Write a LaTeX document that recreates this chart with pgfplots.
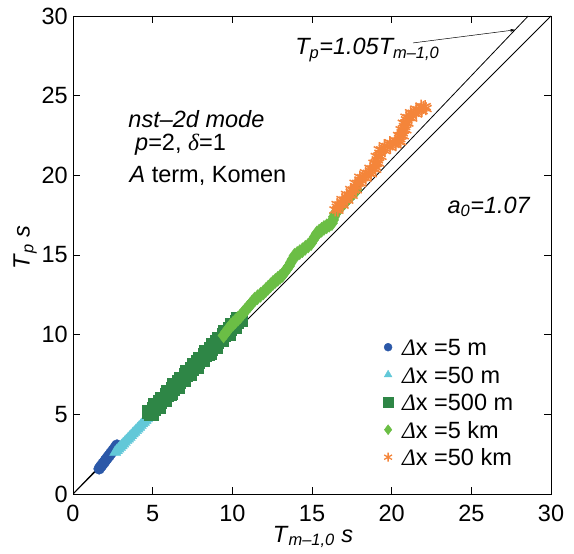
\documentclass[border=0pt]{standalone}
\usepackage{fontspec}
\setmainfont{Liberation Sans}
\newfontfamily\serifgr{Liberation Serif}
\usepackage{pgfplots}
\pgfplotsset{compat=1.18}
\usetikzlibrary{arrows.meta}
\definecolor{cblue}{RGB}{43,88,168}
\definecolor{ccyan}{RGB}{98,200,216}
\definecolor{cdgreen}{RGB}{46,134,70}
\definecolor{clgreen}{RGB}{107,190,69}
\definecolor{corange}{RGB}{244,133,58}
\newcommand{\fsz}{\fontsize{23.5}{28}\selectfont}
\newcommand{\gDelta}{{\serifgr\itshape Δ}}
\begin{document}
\begin{tikzpicture}
\begin{axis}[
  scale only axis, width=478pt, height=478pt,
  xmin=0, xmax=30, ymin=0, ymax=30,
  xtick={0,5,...,30}, ytick={0,5,...,30},
  tick align=inside, major tick length=7pt,
  axis line style={line width=0.8pt},
  every tick/.style={black, line width=0.8pt},
  ticklabel style={font=\fsz},
  /pgf/number format/assume math mode=true,
  xticklabel style={inner sep=0pt, yshift=-11pt},
  yticklabel style={inner sep=0pt, xshift=-5pt},
  xlabel={\textit{T}\textsubscript{\textit{m–1,0}} \textit{s}},
  ylabel={\textit{T}\textsubscript{\textit{p}} \textit{s}},
  xlabel style={at={(axis description cs:0.502,-0.09)}, anchor=center, font=\fsz},
  ylabel style={at={(axis description cs:-0.1,0.515)}, anchor=center, font=\fsz},
  legend style={draw=none, fill=none, at={(axis cs:19.45,9.76)}, anchor=north west,
    inner sep=0pt, row sep=10.5pt, column sep=9pt, font=\fsz, legend cell align=left,
    nodes={inner sep=0pt, text height=17pt, text depth=0pt}},
  legend image code/.code={\draw[mark repeat=2,mark phase=2,#1] plot coordinates {(0pt,0pt)(6pt,0pt)(12pt,0pt)};},
]
\coordinate (ll) at (rel axis cs:0,0);
\coordinate (ur) at (rel axis cs:1,1);
\addplot[only marks, mark=*, mark size=5.5pt, color=cblue, legend image post style={mark size=4pt}] coordinates {
(1.64,1.58)(1.72,1.70)(1.80,1.79)(1.88,1.91)(1.96,2.00)(2.04,2.12)(2.12,2.21)(2.20,2.33)(2.28,2.42)(2.36,2.54)
(2.44,2.63)(2.52,2.75)(2.60,2.84)(2.68,2.96)(2.76,3.07)
};
\addlegendentry{\gDelta x =5 m}
\addplot[only marks, mark=triangle*, mark size=6.5pt, color=ccyan, legend image post style={mark size=4.5pt}] coordinates {
(2.65,2.62)(2.75,2.73)(2.85,2.83)(2.95,2.94)(3.05,3.04)(3.15,3.15)(3.25,3.25)(3.35,3.36)(3.45,3.46)(3.55,3.57)
(3.65,3.67)(3.75,3.78)(3.85,3.88)(3.95,3.99)(4.05,4.09)(4.15,4.20)(4.25,4.30)(4.35,4.41)(4.45,4.51)(4.55,4.62)
(4.65,4.72)(4.75,4.82)(4.85,4.90)
};
\addlegendentry{\gDelta x =50 m}
\addplot[only marks, mark=square*, mark size=6.5pt, color=cdgreen, legend image post style={mark size=5pt}] coordinates {
(4.75,5.16)(4.85,5.07)(4.95,5.07)(5.05,5.38)(5.15,5.58)(5.25,5.49)(5.35,5.49)(5.45,5.80)
(5.55,6.00)(5.65,5.90)(5.75,5.91)(5.85,6.21)(5.95,6.42)(6.05,6.32)(6.15,6.33)(6.25,6.63)
(6.35,6.84)(6.45,6.74)(6.55,6.75)(6.65,7.05)(6.75,7.25)(6.85,7.16)(6.95,7.16)(7.05,7.47)
(7.15,7.67)(7.25,7.58)(7.35,7.58)(7.45,7.89)(7.55,8.09)(7.65,7.99)(7.75,8.00)(7.85,8.30)
(7.95,8.51)(8.05,8.41)(8.15,8.42)(8.25,8.72)(8.35,8.93)(8.45,8.83)(8.55,8.84)(8.65,9.14)
(8.75,9.34)(8.85,9.25)(8.95,9.25)(9.05,9.56)(9.15,9.76)(9.25,9.67)(9.35,9.67)(9.45,9.98)
(9.55,10.18)(9.65,10.08)(9.75,10.09)(9.85,10.39)(9.95,10.60)(10.05,10.50)(10.15,10.51)(10.25,10.81)
(10.35,11.02)(10.45,10.92)(10.55,10.92)
};
\addlegendentry{\gDelta x =500 m}
\addplot[only marks, mark=diamond*, mark size=7.5pt, color=clgreen, legend image post style={mark size=5pt}] coordinates {
(9.45,9.95)(9.60,10.15)(9.75,10.35)(9.90,10.55)(10.05,10.70)(10.20,10.85)(10.35,11.00)
(10.50,11.15)(10.65,11.33)(10.80,11.50)(10.95,11.68)(11.10,11.85)(11.25,12.03)
(11.40,12.20)(11.58,12.35)(11.77,12.50)(11.95,12.65)(12.10,12.80)(12.25,12.95)(12.40,13.10)
(12.55,13.25)(12.70,13.38)(12.85,13.50)(13.00,13.63)(13.15,13.75)(13.28,13.93)(13.42,14.12)
(13.55,14.30)(13.67,14.52)(13.78,14.73)(13.90,14.95)(14.07,15.07)(14.23,15.18)
(14.40,15.30)(14.58,15.45)(14.77,15.60)(14.95,15.75)(15.07,15.95)(15.18,16.15)
(15.30,16.35)(15.45,16.47)(15.60,16.58)(15.75,16.70)(15.92,16.80)(16.08,16.90)
(16.25,17.00)(16.32,17.20)(16.38,17.40)(16.45,17.60)(16.60,17.78)(16.75,17.97)
(16.90,18.15)(17.05,18.31)(17.20,18.48)(17.35,18.64)(17.50,18.80)(17.65,18.95)(17.80,19.10)
};
\addlegendentry{\gDelta x =5 km}
\addplot[only marks, mark=asterisk, mark size=6.5pt, line width=1.5pt, color=corange, legend image post style={mark size=4.5pt, line width=1.3pt}] coordinates {
(16.45,17.83)(16.60,17.99)(16.76,18.15)(16.91,18.30)(17.07,18.46)(17.20,18.62)(17.34,18.77)(17.47,18.93)
(17.60,19.08)(17.74,19.29)(17.88,19.50)(18.02,19.71)(18.19,19.85)(18.37,19.99)
(18.54,20.13)(18.68,20.27)(18.82,20.41)(18.96,20.55)(19.03,20.76)(19.10,20.97)
(19.17,21.18)(19.27,21.39)(19.38,21.60)(19.55,21.70)(19.73,21.81)(19.90,21.91)(20.07,21.98)(20.25,22.05)
(20.42,22.12)(20.50,22.30)(20.58,22.49)(20.66,22.67)(20.74,22.85)(20.81,23.06)(20.87,23.27)
(20.94,23.48)(21.08,23.62)(21.22,23.76)(21.36,23.90)(21.54,24.00)(21.71,24.11)(21.89,24.21)(22.00,24.26)(22.10,24.31)
(16.62,17.81)(16.58,18.17)(16.94,18.13)(16.89,18.48)(17.24,18.44)(17.17,18.80)(17.51,18.75)(17.44,19.11)
(17.77,19.09)(17.71,19.50)(18.05,19.51)(18.01,19.88)(18.38,19.82)(18.36,20.16)(18.71,20.10)(18.65,20.44)
(18.99,20.38)(18.90,20.76)(19.17,20.77)(19.04,21.18)(19.32,21.19)(19.23,21.60)(19.57,21.55)(19.54,21.86)
(19.92,21.76)(19.89,22.05)(20.26,21.92)(20.24,22.19)(20.56,22.11)(20.44,22.50)(20.72,22.48)(20.60,22.86)
(20.88,22.86)(20.74,23.27)(21.01,23.28)(20.91,23.65)(21.25,23.59)(21.19,23.93)(21.55,23.85)(21.53,24.16)
(21.90,24.06)(21.85,24.34)(22.15,24.19)
};
\addlegendentry{\gDelta x =50 km}
\addplot[black, line width=0.8pt] coordinates {(0,0) (30,30)};
\addplot[black, line width=0.8pt] coordinates {(0,0) (28.571,30)};
\draw[-{Stealth[length=5pt,width=3pt]}, line width=0.5pt] (axis cs:21.34,28.31) -- (axis cs:27.75,29.13);
\node[font=\fsz, anchor=base west, inner sep=0pt] at (axis cs:13.94,27.56) {\textit{T\textsubscript{p}=1.05T\textsubscript{m–1,0}}};
\node[font=\fsz, anchor=base west, inner sep=0pt] at (axis cs:3.47,23.02) {\textit{nst–2d mode}};
\node[font=\fsz, anchor=base west, inner sep=0pt] at (axis cs:3.89,21.55) {\textit{p}=2, {\serifgr\itshape δ}=1};
\node[font=\fsz, anchor=base west, inner sep=0pt] at (axis cs:3.54,19.57) {\textit{A} term, Komen};
\node[font=\fsz, anchor=base west, inner sep=0pt] at (axis cs:23.50,17.62) {\textit{a\textsubscript{0}=1.07}};
\end{axis}
\path (ll) ++(-73pt,-59pt);
\path (ur) ++(23pt,16pt);
\end{tikzpicture}
\end{document}
